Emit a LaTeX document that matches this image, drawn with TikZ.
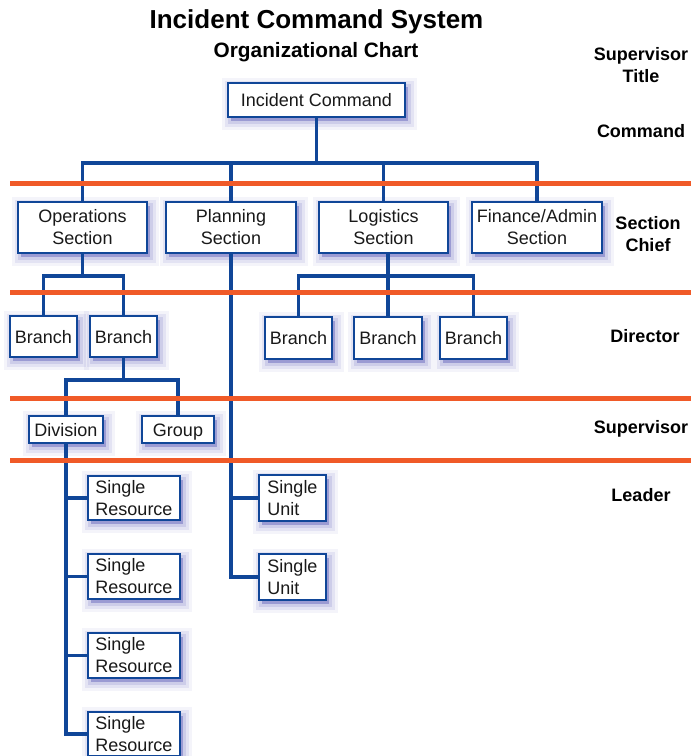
\documentclass[tikz,border=0pt]{standalone}
\usepackage{fontspec}
\setmainfont{Liberation Sans}
\newcommand{\fsz}[2]{\fontsize{#1}{#2}\selectfont}
\definecolor{icsblue}{RGB}{16,70,152}
\definecolor{icsorange}{RGB}{240,90,40}
\definecolor{shadowc}{RGB}{60,60,170}
\definecolor{textc}{RGB}{25,25,25}
\begin{document}
\begin{tikzpicture}[x=1pt,y=-1pt,
  box/.style={draw=icsblue, line width=2.6pt, fill=white, inner sep=0pt, text=textc,
    font=\fsz{18}{22}, align=center,
    preaction={draw=shadowc, line width=18pt, draw opacity=0.06, transform canvas={xshift=3pt,yshift=-4pt}},
    preaction={draw=shadowc, line width=12pt, draw opacity=0.09, transform canvas={xshift=3pt,yshift=-4pt}},
    preaction={draw=shadowc, line width=6pt, draw opacity=0.13, transform canvas={xshift=3pt,yshift=-4pt}},
    preaction={fill=shadowc, fill opacity=0.35, transform canvas={xshift=3pt,yshift=-4pt}}},
  one/.style={text height=13pt, text depth=0pt},
  sz/.style 2 args={minimum width=#1pt, minimum height=#2pt},
  conn/.style={draw=icsblue, line width=3.8pt},
  band/.style={draw=icsorange, line width=5pt},
  lbl/.style={font=\bfseries\fsz{18}{22}, align=center, text=black},
]
\useasboundingbox (0,0) rectangle (691,756);

% titles
\node[font=\bfseries\fsz{26}{30}] (title) at (316.5,22) {Incident Command System};
\node[font=\bfseries\fsz{20.8}{24}] (sub) at (316,52) {Organizational Chart};

% right labels
\node[lbl] (lsup) at (641,65) {Supervisor\\Title};
\node[lbl] (lcmd) at (641,131) {Command};
\node[lbl] (lsec) at (648,234) {Section\\Chief};
\node[lbl] (ldir) at (645,336) {Director};
\node[lbl] (lspv) at (641,429) {Supervisor};
\node[lbl] (lldr) at (641,495) {Leader};

% boxes
\node[box, one, sz={177}{34}] (IC) at (316.5,100) {Incident Command};
\node[box, sz={129}{51}] (Ops) at (82.5,227.5) {Operations\\Section};
\node[box, sz={130}{51}] (Plan) at (231,227.5) {Planning\\Section};
\node[box, sz={129}{51}] (Log) at (383.5,227.5) {Logistics\\Section};
\node[box, sz={130}{51}] (Fin) at (537,227.5) {Finance/Admin\\Section};

\node[box, one, sz={67}{41}] (B1) at (43.5,336.5) {Branch};
\node[box, one, sz={67}{41}] (B2) at (123.5,336.5) {Branch};
\node[box, one, sz={67}{42}] (LB1) at (298.5,338) {Branch};
\node[box, one, sz={68}{42}] (LB2) at (388,338) {Branch};
\node[box, one, sz={67}{42}] (LB3) at (473.5,338) {Branch};

\node[box, one, sz={74}{27}] (Div) at (66,429.5) {Division};
\node[box, one, sz={72}{27}] (Grp) at (178,429.5) {Group};

\node[box, sz={92}{44}, align=left] (SR1) at (134,498) {Single\\Resource};
\node[box, sz={92}{45}, align=left] (SR2) at (134,576.5) {Single\\Resource};
\node[box, sz={92}{45}, align=left] (SR3) at (134,655.5) {Single\\Resource};
\node[box, sz={92}{44}, align=left] (SR4) at (134,734) {Single\\Resource};

\node[box, sz={67}{46}, align=left] (SU1) at (292.5,498) {Single\\Unit};
\node[box, sz={67}{46}, align=left] (SU2) at (292.5,577) {Single\\Unit};

% connectors
\coordinate (bus) at (316.5,163);
\draw[conn] (IC.south) -- (bus);
\draw[conn] (bus) -| (Ops.north);
\draw[conn] (bus) -| (Plan.north);
\draw[conn] (bus) -| (Log.north);
\draw[conn] (bus) -| (Fin.north);

\coordinate (obus) at (82.5,276);
\draw[conn] (Ops.south) -- (obus);
\draw[conn] (obus) -| (B1.north);
\draw[conn] (obus) -| (B2.north);

\coordinate (bbus) at (123.5,380);
\draw[conn] (B2.south) -- (bbus);
\draw[conn] (bbus) -| (Div.north);
\draw[conn] (bbus) -| (Grp.north);

\draw[conn] (Div.south) |- (SR4.west);
\draw[conn] (Div.south |- SR1.west) -- (SR1.west);
\draw[conn] (Div.south |- SR2.west) -- (SR2.west);
\draw[conn] (Div.south |- SR3.west) -- (SR3.west);

\draw[conn] (Plan.south) |- (SU2.west);
\draw[conn] (Plan.south |- SU1.west) -- (SU1.west);

\coordinate (lbus) at (388,276);
\draw[conn] (Log.south -| LB2.north) -- (LB2.north);
\draw[conn] (lbus) -| (LB1.north);
\draw[conn] (lbus) -| (LB3.north);

% orange bands
\draw[band] (10,183) -- (691,183);
\draw[band] (10,292) -- (691,292);
\draw[band] (10,398) -- (691,398);
\draw[band] (10,460) -- (691,460);
\end{tikzpicture}
\end{document}
